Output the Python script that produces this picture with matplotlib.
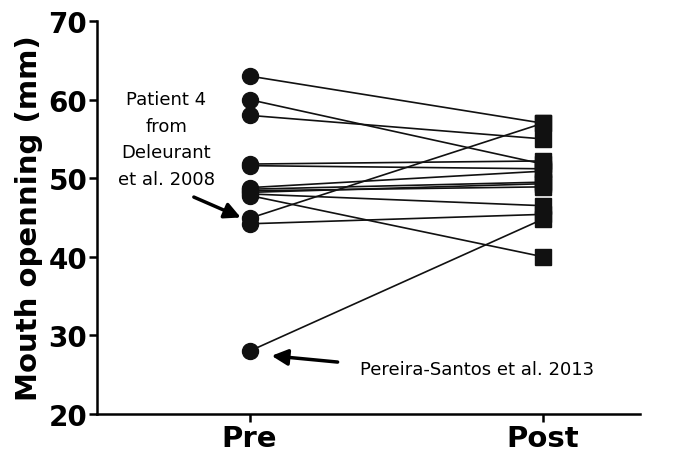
import matplotlib
matplotlib.use("Agg")
import matplotlib.pyplot as plt

# Mouth opening before and after, one line per patient
groups = ["Pre", "Post"]
pre = [63, 60, 58, 51.8, 51.6, 48.8, 48.6, 48.4, 48.2, 48.0, 47.8, 44.9, 44.2, 28]
post = [57, 51.8, 55, 52.2, 51.2, 50.9, 49.5, 48.9, 49.3, 46.5, 40, 57, 45.4, 44.8]
yticks = [20, 30, 40, 50, 60, 70]

plt.rcParams["font.family"] = ["DejaVu Sans"]

fig = plt.figure(figsize=(6.88, 4.6), dpi=100)
ax = fig.add_axes([0.141, 0.098, 0.789, 0.854])

for a, b in zip(pre, post):
    ax.plot([0, 1], [a, b], color="#111111", lw=1.2, zorder=2)
ax.plot([0] * len(pre), pre, "o", color="#111111", ms=11.5, zorder=3)
ax.plot([1] * len(post), post, "s", color="#111111", ms=12, zorder=3)

ax.set_xlim(-0.52, 1.33)
ax.set_ylim(20, 70)
ax.set_xticks([0, 1])
ax.set_xticklabels(groups, fontsize=21, fontweight="bold")
ax.set_yticks(yticks)
ax.set_yticklabels([str(v) for v in yticks], fontsize=20, fontweight="bold")
ax.set_ylabel("Mouth openning (mm)", fontsize=21, fontweight="bold", labelpad=4)

for s in ["top", "right"]:
    ax.spines[s].set_visible(False)
for s in ["left", "bottom"]:
    ax.spines[s].set_linewidth(1.8)
ax.tick_params(direction="out", length=6, width=1.8, pad=1)

# annotations
arrow = dict(arrowstyle="-|>", color="black", lw=2.5, mutation_scale=24, shrinkA=0, shrinkB=0)
ax.text(-0.283, 55.0, "Patient 4\nfrom\nDeleurant\net al. 2008", ha="center", va="center",
        fontsize=13, linespacing=1.6)
ax.annotate("", xy=(-0.03, 45.0), xytext=(-0.19, 47.6), arrowprops=arrow)
ax.annotate("", xy=(0.075, 27.4), xytext=(0.30, 26.6), arrowprops=arrow)
ax.text(0.375, 25.7, "Pereira-Santos et al. 2013", fontsize=13, ha="left", va="center")

fig.savefig("out.png", dpi=100)
